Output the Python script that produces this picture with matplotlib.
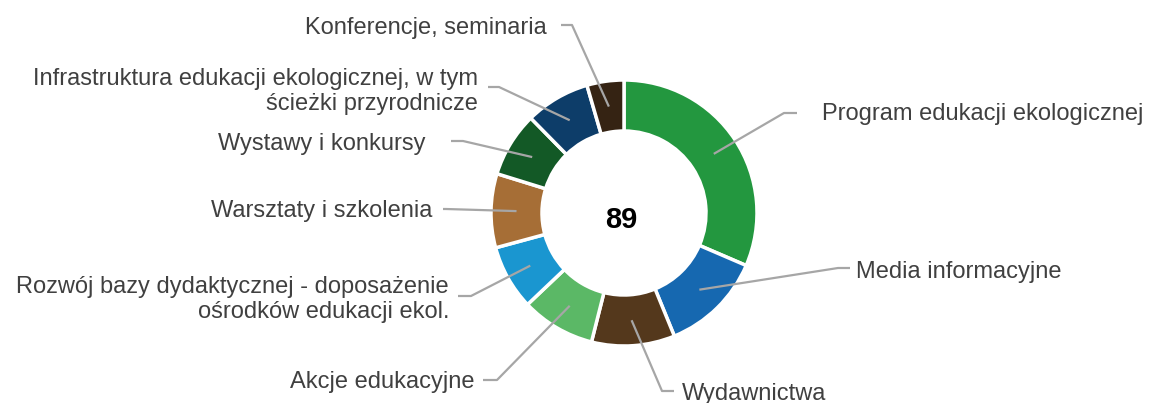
import numpy as np
import matplotlib
matplotlib.use("Agg")
import matplotlib.pyplot as plt

plt.rcParams['font.family'] = ['Liberation Sans', 'DejaVu Sans']

# data (clockwise from 12 o'clock)
labels = [
    "Program edukacji ekologicznej",
    "Media informacyjne",
    "Wydawnictwa",
    "Akcje edukacyjne",
    "Rozwój bazy dydaktycznej - doposażenie\nośrodków edukacji ekol.",
    "Warsztaty i szkolenia",
    "Wystawy i konkursy",
    "Infrastruktura edukacji ekologicznej, w tym\nścieżki przyrodnicze",
    "Konferencje, seminaria",
]
values = [28, 11, 9, 8, 7, 8, 7, 7, 4]
colors = ["#23973f", "#1668b0", "#54381c", "#5bb866", "#1a96d0",
          "#a66e36", "#135926", "#0d3d69", "#352313"]

W, H = 1150, 403
cx, cy = 624, H - 213
r_out, ring = 133, 51

# label layout in image pixels: text baseline (last line), alignment, elbow, line end
layout = [
    ((822, 120), "left", (784, 113), (797, 113)),
    ((856, 278), "left", (838, 268), (850, 268)),
    ((682, 400), "left", (662, 391), (674, 391)),
    ((474, 388), "right", (497, 380), (483, 380)),
    ((449, 318), "right", (471, 296), (458, 296)),
    ((432, 217), "right", (446, 209), (443, 209)),
    ((426, 150), "right", (463, 141), (451, 141)),
    ((478, 110), "right", (499, 87), (488, 87)),
    ((547, 34), "right", (572, 25), (561, 25)),
]

fig = plt.figure(figsize=(W / 100, H / 100), dpi=100)
ax = fig.add_axes([0, 0, 1, 1])
wedges, _ = ax.pie(values, colors=colors, startangle=90, counterclock=False,
                   center=(cx, cy), radius=r_out,
                   wedgeprops=dict(width=ring, edgecolor="white", linewidth=2.5))
ax.set_xlim(0, W)
ax.set_ylim(0, H)
ax.set_aspect("equal")
ax.axis("off")

ax.text(cx - 3, H - 228, str(sum(values)), ha="center", va="baseline",
        fontsize=21, fontweight="bold", color="black")

r_mid = r_out - ring / 2
for w, lab, (tpos, ha, elbow, end) in zip(wedges, labels, layout):
    ang = np.deg2rad((w.theta1 + w.theta2) / 2)
    ax0 = cx + r_mid * np.cos(ang)
    ay0 = cy + r_mid * np.sin(ang)
    ax.plot([ax0, elbow[0], end[0]], [ay0, H - elbow[1], H - end[1]],
            color="#a6a6a6", lw=1.6, solid_capstyle="butt", zorder=3)
    ax.text(tpos[0], H - tpos[1], lab, ha=ha, va="baseline", ma=ha,
            fontsize=17, color="#404040", linespacing=1.2)

fig.savefig("out.png", dpi=100)
